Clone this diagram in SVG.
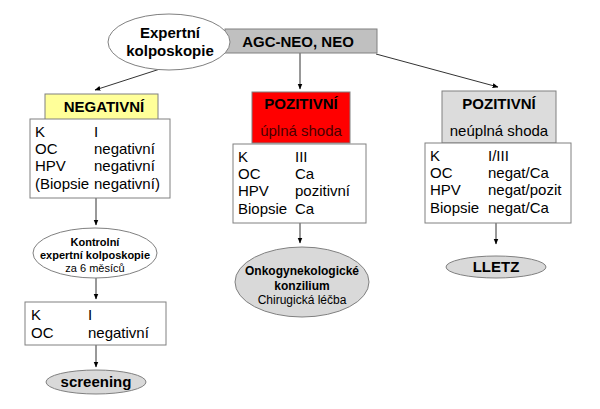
<svg xmlns="http://www.w3.org/2000/svg" width="600" height="409" viewBox="0 0 600 409">
<defs>
<marker id="ah" viewBox="0 0 10 10" refX="9" refY="5" markerWidth="6" markerHeight="6" orient="auto"><path d="M0,1 L10,5 L0,9 z" fill="#000"/></marker>
<style>
text{font-family:"Liberation Sans",Arial,sans-serif;fill:#000}
.b{font-weight:bold}
.s{stroke:#808080;stroke-width:1}
.row{font-size:15px}
.c{stroke:#333;stroke-width:1;fill:none;marker-end:url(#ah)}
</style>
</defs>
<rect width="600" height="409" fill="#fff"/>
<g id="connectors">
<line class="c" x1="160" y1="69" x2="95" y2="90"/>
<line class="c" x1="300" y1="53" x2="300" y2="89"/>
<line class="c" x1="376" y1="54" x2="498" y2="87"/>
<line class="c" x1="96" y1="198" x2="96" y2="225"/>
<line class="c" x1="96" y1="278" x2="96" y2="299"/>
<line class="c" x1="96" y1="345" x2="96" y2="367"/>
<line class="c" x1="300" y1="223" x2="300" y2="243"/>
<line class="c" x1="496" y1="223" x2="496" y2="244"/>
</g>
<g id="agc">
<rect class="s" x="225" y="29" width="152" height="24" fill="#c0c0c0"/>
<text class="b" x="298" y="47" font-size="15" text-anchor="middle">AGC-NEO, NEO</text>
</g>
<g id="expertni">
<ellipse class="s" cx="169" cy="42" rx="61" ry="28" fill="#fff"/>
<text class="b" x="170" y="38" font-size="15" text-anchor="middle">Expertní</text>
<text class="b" x="170" y="56" font-size="15" text-anchor="middle">kolposkopie</text>
</g>
<g id="negativni">
<rect class="s" x="45" y="94" width="113" height="26" fill="#ffff99"/>
<text class="b" x="104" y="112" font-size="15" text-anchor="middle">NEGATIVNÍ</text>
</g>
<g id="neg-detail">
<rect class="s" x="30" y="119" width="140" height="79" fill="#fff"/>
<text class="row" x="35" y="137">K</text><text class="row" x="94" y="137">I</text>
<text class="row" x="35" y="154">OC</text><text class="row" x="94" y="154">negativní</text>
<text class="row" x="35" y="171">HPV</text><text class="row" x="94" y="171">negativní</text>
<text class="row" x="35" y="189">(Biopsie</text><text class="row" x="94" y="189">negativní)</text>
</g>
<g id="pozitivni-uplna">
<rect class="s" x="252" y="92" width="98" height="51" fill="#ff0000"/>
<text class="b" x="301" y="109" font-size="15" text-anchor="middle">POZITIVNÍ</text>
<text x="301" y="136" font-size="15" text-anchor="middle" style="fill:#4a0000">úplná shoda</text>
</g>
<g id="uplna-detail">
<rect class="s" x="233" y="144" width="133" height="79" fill="#fff"/>
<text class="row" x="238" y="162">K</text><text class="row" x="295" y="162">III</text>
<text class="row" x="238" y="179">OC</text><text class="row" x="295" y="179">Ca</text>
<text class="row" x="238" y="196">HPV</text><text class="row" x="295" y="196">pozitivní</text>
<text class="row" x="238" y="214">Biopsie</text><text class="row" x="295" y="214">Ca</text>
</g>
<g id="pozitivni-neuplna">
<rect class="s" x="442" y="91" width="114" height="52" fill="#dcdcdc"/>
<text class="b" x="499" y="109" font-size="15" text-anchor="middle">POZITIVNÍ</text>
<text x="499" y="136" font-size="15" text-anchor="middle">neúplná shoda</text>
</g>
<g id="neuplna-detail">
<rect class="s" x="425" y="143" width="146" height="80" fill="#fff"/>
<text class="row" x="430" y="161">K</text><text class="row" x="488" y="161">I/III</text>
<text class="row" x="430" y="178">OC</text><text class="row" x="488" y="178">negat/Ca</text>
<text class="row" x="430" y="195">HPV</text><text class="row" x="488" y="195">negat/pozit</text>
<text class="row" x="430" y="213">Biopsie</text><text class="row" x="488" y="213">negat/Ca</text>
</g>
<g id="kontrolni">
<ellipse class="s" cx="95" cy="253" rx="62" ry="25" fill="#fff"/>
<text class="b" x="95" y="246" font-size="11" text-anchor="middle">Kontrolní</text>
<text class="b" x="95" y="259" font-size="11" text-anchor="middle">expertní kolposkopie</text>
<text x="95" y="272" font-size="11" text-anchor="middle">za 6 měsíců</text>
</g>
<g id="kontrola-detail">
<rect class="s" x="25" y="302" width="141" height="43" fill="#fff"/>
<text class="row" x="31" y="320">K</text><text class="row" x="88" y="320">I</text>
<text class="row" x="31" y="338">OC</text><text class="row" x="88" y="338">negativní</text>
</g>
<g id="screening">
<ellipse class="s" cx="96" cy="382" rx="50" ry="12" fill="#d9d9d9"/>
<text class="b" x="96" y="387" font-size="15" text-anchor="middle">screening</text>
</g>
<g id="onko">
<ellipse class="s" cx="302" cy="282" rx="67" ry="35" fill="#d9d9d9"/>
<text class="b" x="302" y="275" font-size="12" text-anchor="middle">Onkogynekologické</text>
<text class="b" x="302" y="290" font-size="12" text-anchor="middle">konzilium</text>
<text x="302" y="304" font-size="12" text-anchor="middle">Chirugická léčba</text>
</g>
<g id="lletz">
<ellipse class="s" cx="496" cy="267" rx="50" ry="11" fill="#d9d9d9"/>
<text class="b" x="496" y="272" font-size="15" text-anchor="middle">LLETZ</text>
</g>
</svg>
